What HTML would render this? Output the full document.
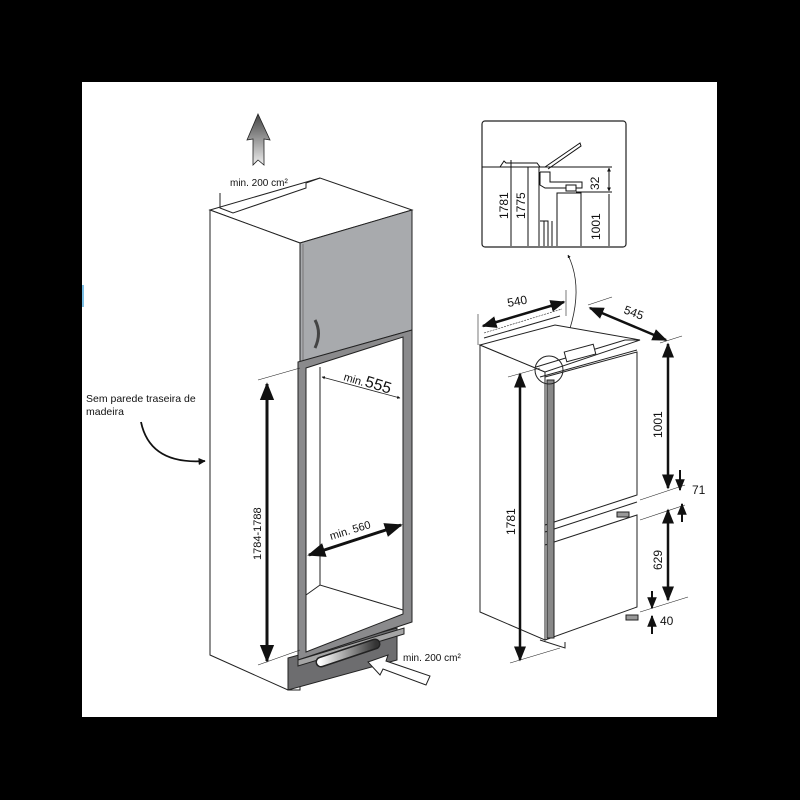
<!DOCTYPE html>
<html><head><meta charset="utf-8"><style>
html,body{margin:0;padding:0;background:#000;width:800px;height:800px;overflow:hidden}
svg{display:block}
text{font-family:"Liberation Sans",sans-serif;fill:#111}
</style></head><body>
<svg width="800" height="800" viewBox="0 0 800 800" xmlns="http://www.w3.org/2000/svg">
<defs>
<linearGradient id="ga" x1="0" y1="0" x2="0" y2="1"><stop offset="0" stop-color="#444"/><stop offset="1" stop-color="#eee"/></linearGradient>
<linearGradient id="gs" x1="320" y1="0" x2="376" y2="0" gradientUnits="userSpaceOnUse"><stop offset="0" stop-color="#fff"/><stop offset="1" stop-color="#333"/></linearGradient>
<marker id="ah" viewBox="0 0 10 10" refX="9" refY="5" markerWidth="4" markerHeight="4" orient="auto-start-reverse"><path d="M0,0L10,5L0,10z" fill="#111"/></marker>
<marker id="as" viewBox="0 0 10 10" refX="9" refY="5" markerWidth="6" markerHeight="6" orient="auto-start-reverse"><path d="M0,1L10,5L0,9z" fill="#111"/></marker>
</defs>
<rect x="82" y="82" width="635" height="635" fill="#fff"/>
<rect x="82" y="285" width="2" height="22" fill="#7cc0e6"/>

<!-- LEFT CABINET -->
<g stroke="#222" stroke-width="1" fill="none">
<polygon points="210,210 320,178 412,210 300,243" fill="#fff"/>
<polyline points="220,193 220,208 233,213 306,188 306,183 320,178"/>
<polygon points="210,210 300,243 300,690 288,690 210,655" fill="#fff"/>
<polygon points="300,243 412,210 412,330 300,362" fill="#a8aaad"/>
<line x1="303" y1="244" x2="303" y2="361" stroke="#777"/>
<path d="M315,320 Q322,333 315,348" stroke="#444" stroke-width="3"/>
<!-- plinth -->
<polygon points="288,658 397,628 397,660 288,690" fill="#6d6d6f"/>
<!-- frame -->
<polygon points="298,362 412,330 412,622 298,660" fill="#8a8a8c"/>
<polygon points="306,368 403,337 403,614 306,652" fill="#fff"/>
<line x1="320" y1="367" x2="320" y2="585"/>
<polyline points="306,595 320,585 403,610"/>
<polygon points="298,660 404,628 404,634 298,666" fill="#a5a5a5"/>
</g>
<line x1="321" y1="662" x2="375" y2="644" stroke="#222" stroke-width="11" stroke-linecap="round"/>
<line x1="321" y1="662" x2="375" y2="644" stroke="url(#gs)" stroke-width="8" stroke-linecap="round"/>
<!-- dims left -->
<line x1="258" y1="380" x2="300" y2="368" stroke="#222" stroke-width="0.6"/>
<line x1="258" y1="665" x2="300" y2="650" stroke="#222" stroke-width="0.6"/>
<line x1="267" y1="384" x2="267" y2="661" stroke="#111" stroke-width="3" marker-start="url(#as)" marker-end="url(#as)"/>
<text x="0" y="0" font-size="11" transform="translate(261,560) rotate(-90)">1784-1788</text>
<line x1="322" y1="377" x2="400" y2="398" stroke="#222" stroke-width="0.8" marker-start="url(#ah)" marker-end="url(#ah)"/>
<text x="0" y="0" font-size="11" transform="translate(343,380) rotate(17)">min.</text>
<text x="0" y="0" font-size="16" transform="translate(364,386) rotate(17)">555</text>
<line x1="309" y1="555" x2="401" y2="525" stroke="#111" stroke-width="3" marker-start="url(#as)" marker-end="url(#as)"/>
<text x="0" y="0" font-size="11" transform="translate(331,540) rotate(-17)">min. 560</text>
<!-- arrows -->
<path d="M258,114 L270,140 L264,139 L264,165 L258,160 L253,165 L253,139 L247,140 Z" fill="url(#ga)" stroke="#222" stroke-width="0.8"/>
<text x="230" y="186" font-size="10">min. 200 cm²</text>
<path d="M368,662 L388,655 L386,661 L430,676 L426,685 L383,669 L380,675 Z" fill="#fff" stroke="#222" stroke-width="1"/>
<text x="403" y="661" font-size="10">min. 200 cm²</text>
<text x="86" y="402" font-size="10.5" fill="#222">Sem parede traseira de</text>
<text x="86" y="415" font-size="10.5" fill="#222">madeira</text>
<path d="M141,422 Q150,465 205,461" stroke="#111" stroke-width="1.8" fill="none" marker-end="url(#ah)"/>

<!-- INSET -->
<rect x="482" y="121" width="144" height="126" rx="3" fill="#fff" stroke="#222" stroke-width="1.2"/>
<g stroke="#111" stroke-width="1" fill="none">
<line x1="482" y1="167" x2="612" y2="167"/>
<polygon points="504,161 506,163 537,163 540,167 500,167" fill="#fff"/>
<polyline points="545,167 580,143 581,146 548,169"/>
<line x1="511" y1="160" x2="511" y2="246"/>
<line x1="528" y1="167" x2="528" y2="246"/>
<line x1="539" y1="167" x2="539" y2="246"/>
<polyline points="540,172 550,172 550,182 582,182 582,188 545,188 540,185 540,172" fill="#fff"/>
<rect x="566" y="185" width="10" height="6" fill="#fff"/>
<polyline points="557,246 557,193 581,193 581,246"/>
<polyline points="540,221 548,221 548,246"/>
<line x1="544" y1="221" x2="544" y2="246"/>
<line x1="552" y1="221" x2="552" y2="246"/>
<line x1="576" y1="192" x2="612" y2="192"/>
<line x1="609" y1="168" x2="609" y2="191" marker-start="url(#ah)" marker-end="url(#ah)"/>
<line x1="609" y1="194" x2="609" y2="246"/>
</g>
<text x="0" y="0" font-size="12" transform="translate(508,219) rotate(-90)">1781</text>
<text x="0" y="0" font-size="12" transform="translate(525,219) rotate(-90)">1775</text>
<text x="0" y="0" font-size="12" transform="translate(599,190) rotate(-90)">32</text>
<text x="0" y="0" font-size="12" transform="translate(600,240) rotate(-90)">1001</text>
<path d="M568,255 Q590,300 552,370" stroke="#222" stroke-width="0.8" fill="none" marker-start="url(#ah)"/>

<!-- RIGHT FRIDGE -->
<g stroke="#222" stroke-width="1" fill="none">
<polygon points="480,345 545,372 545,640 480,612" fill="#fff"/>
<polygon points="480,345 555,325 640,340 545,372" fill="#fff"/>
<polyline points="484,338 560,316"/>
<polyline points="536,367 625,340 640,340"/>
<polyline points="540,377 637,350"/>
<polygon points="545,377 637,352 637,495 545,525" fill="#fff"/>
<polygon points="545,545 637,515 637,607 545,640" fill="#fff"/>
<polyline points="545,532 637,502"/>
<rect x="547" y="380" width="7" height="258" fill="#888"/>
<rect x="565" y="348" width="30" height="10" fill="#fff" transform="rotate(-15 580 353)"/>
<circle cx="549" cy="370" r="14"/>
<polyline points="540,640 565,648 565,642"/>
<rect x="626" y="615" width="12" height="5" fill="#999"/>
<rect x="617" y="512" width="12" height="5" fill="#999"/>
</g>
<line x1="484" y1="333" x2="562" y2="309" stroke="#222" stroke-width="0.6" stroke-dasharray="2,1"/>
<!-- dims right -->
<line x1="478" y1="314" x2="478" y2="345" stroke="#222" stroke-width="0.6"/>
<line x1="566" y1="290" x2="566" y2="316" stroke="#222" stroke-width="0.6"/>
<line x1="483" y1="326" x2="564" y2="302" stroke="#111" stroke-width="2.5" marker-start="url(#as)" marker-end="url(#as)"/>
<text x="0" y="0" font-size="12" transform="translate(508,307) rotate(-10)">540</text>
<line x1="590" y1="308" x2="666" y2="340" stroke="#111" stroke-width="2.5" marker-start="url(#as)" marker-end="url(#as)"/>
<text x="0" y="0" font-size="12" transform="translate(623,313) rotate(20)">545</text>
<line x1="588" y1="305" x2="612" y2="297" stroke="#222" stroke-width="0.6"/>
<line x1="660" y1="343" x2="682" y2="336" stroke="#222" stroke-width="0.6"/>
<line x1="668" y1="344" x2="668" y2="488" stroke="#111" stroke-width="2.5" marker-start="url(#as)" marker-end="url(#as)"/>
<text x="0" y="0" font-size="12" transform="translate(662,438) rotate(-90)">1001</text>
<line x1="640" y1="500" x2="685" y2="485" stroke="#222" stroke-width="0.6"/>
<line x1="640" y1="520" x2="685" y2="505" stroke="#222" stroke-width="0.6"/>
<line x1="680" y1="470" x2="680" y2="490" stroke="#111" stroke-width="2" marker-end="url(#as)"/>
<line x1="682" y1="522" x2="682" y2="504" stroke="#111" stroke-width="2" marker-end="url(#as)"/>
<text x="692" y="494" font-size="12">71</text>
<line x1="668" y1="510" x2="668" y2="600" stroke="#111" stroke-width="2.5" marker-start="url(#as)" marker-end="url(#as)"/>
<text x="0" y="0" font-size="12" transform="translate(662,570) rotate(-90)">629</text>
<line x1="640" y1="612" x2="688" y2="597" stroke="#222" stroke-width="0.6"/>
<line x1="652" y1="591" x2="652" y2="608" stroke="#111" stroke-width="2" marker-end="url(#as)"/>
<line x1="652" y1="634" x2="652" y2="616" stroke="#111" stroke-width="2" marker-end="url(#as)"/>
<text x="660" y="625" font-size="12">40</text>
<line x1="508" y1="377" x2="540" y2="368" stroke="#222" stroke-width="0.6"/>
<line x1="510" y1="663" x2="560" y2="648" stroke="#222" stroke-width="0.6"/>
<line x1="520" y1="374" x2="520" y2="660" stroke="#111" stroke-width="2.5" marker-start="url(#as)" marker-end="url(#as)"/>
<text x="0" y="0" font-size="12" transform="translate(515,535) rotate(-90)">1781</text>
</svg>
</body></html>
